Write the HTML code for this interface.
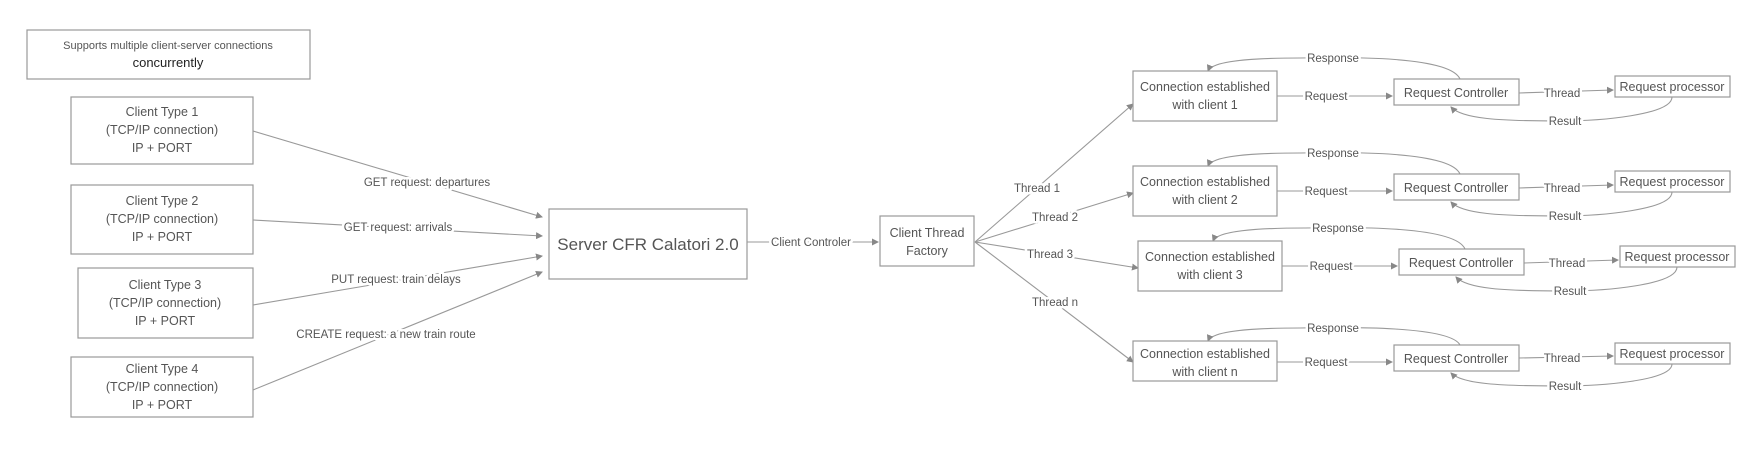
<!DOCTYPE html>
<html><head><meta charset="utf-8"><style>
html,body{margin:0;padding:0;background:#fff;}
svg{display:block;}
text{font-family:"Liberation Sans",sans-serif;fill:#555;}
.l{font-size:11.5px;text-anchor:middle;paint-order:stroke;stroke:#fff;stroke-width:5px;stroke-linejoin:round;}
.b{font-size:12.5px;text-anchor:middle;}
rect{fill:#fff;stroke:#999;stroke-width:1.2;}
.ln{fill:none;stroke:#999;stroke-width:1.1;}
</style></head><body>
<svg width="1748" height="455" viewBox="0 0 1748 455" xmlns="http://www.w3.org/2000/svg">
<defs><marker id="a" markerWidth="7" markerHeight="7" refX="6" refY="3.5" orient="auto" markerUnits="userSpaceOnUse"><path d="M0,0 L7,3.5 L0,7 z" fill="#888"/></marker></defs>

<rect x="27" y="30" width="283" height="49"/>
<text x="168" y="49" font-size="11" text-anchor="middle">Supports multiple client-server connections</text>
<text x="168" y="67" font-size="13" text-anchor="middle" style="fill:#222">concurrently</text>

<g>
<rect x="71" y="97" width="182" height="67"/>
<text class="b" x="162" y="116">Client Type 1</text><text class="b" x="162" y="134">(TCP/IP connection)</text><text class="b" x="162" y="152">IP + PORT</text>
<rect x="71" y="185" width="182" height="69"/>
<text class="b" x="162" y="205">Client Type 2</text><text class="b" x="162" y="223">(TCP/IP connection)</text><text class="b" x="162" y="241">IP + PORT</text>
<rect x="78" y="268" width="175" height="70"/>
<text class="b" x="165" y="289">Client Type 3</text><text class="b" x="165" y="307">(TCP/IP connection)</text><text class="b" x="165" y="325">IP + PORT</text>
<rect x="71" y="357" width="182" height="60"/>
<text class="b" x="162" y="373">Client Type 4</text><text class="b" x="162" y="391">(TCP/IP connection)</text><text class="b" x="162" y="409">IP + PORT</text>
</g>

<line class="ln" x1="253" y1="131" x2="542" y2="217" marker-end="url(#a)"/>
<line class="ln" x1="253" y1="220" x2="542" y2="236" marker-end="url(#a)"/>
<line class="ln" x1="253" y1="305" x2="542" y2="256" marker-end="url(#a)"/>
<line class="ln" x1="253" y1="390" x2="542" y2="272" marker-end="url(#a)"/>
<text class="l" x="427" y="186">GET request:  departures</text>
<text class="l" x="398" y="231">GET request:  arrivals</text>
<text class="l" x="396" y="283">PUT request: train delays</text>
<text class="l" x="386" y="338">CREATE request: a new train route</text>

<rect x="549" y="209" width="198" height="70"/>
<text x="648" y="250" font-size="17" text-anchor="middle">Server CFR Calatori 2.0</text>

<line class="ln" x1="747" y1="242" x2="878" y2="242" marker-end="url(#a)"/>
<text class="l" x="811" y="246">Client Controler</text>

<rect x="880" y="216" width="94" height="50"/>
<text class="b" x="927" y="237">Client Thread</text><text class="b" x="927" y="255">Factory</text>

<line class="ln" x1="975" y1="242" x2="1133" y2="104" marker-end="url(#a)"/>
<line class="ln" x1="975" y1="242" x2="1133" y2="193" marker-end="url(#a)"/>
<line class="ln" x1="975" y1="242" x2="1138" y2="268" marker-end="url(#a)"/>
<line class="ln" x1="975" y1="242" x2="1133" y2="362" marker-end="url(#a)"/>
<text class="l" x="1037" y="192">Thread 1</text>
<text class="l" x="1055" y="221">Thread 2</text>
<text class="l" x="1050" y="258">Thread 3</text>
<text class="l" x="1055" y="306">Thread n</text>

<g id="r1" transform="translate(0,71)">
<path class="ln" d="M1460,8 C1450,-15 1350,-14 1300,-13 C1250,-13 1212,-10 1208,0" marker-end="url(#a)"/>
<text class="l" x="1333" y="-9">Response</text>
<rect x="1133" y="0" width="144" height="50"/>
<text class="b" x="1205" y="20">Connection established</text>
<line class="ln" x1="1277" y1="25" x2="1392" y2="25" marker-end="url(#a)"/>
<text class="l" x="1326" y="29">Request</text>
<rect x="1394" y="8" width="125" height="26"/>
<text class="b" x="1456" y="26">Request Controller</text>
<line class="ln" x1="1519" y1="22" x2="1613" y2="19" marker-end="url(#a)"/>
<text class="l" x="1562" y="26">Thread</text>
<rect x="1615" y="5" width="115" height="21"/>
<text class="b" x="1672" y="20">Request processor</text>
<path class="ln" d="M1672,26 C1672,44 1600,50 1560,50 C1500,50 1462,48 1451,36" marker-end="url(#a)"/>
<text class="l" x="1565" y="54">Result</text>
</g>
<use href="#r1" transform="translate(0,95)"/>
<use href="#r1" transform="translate(5,170)"/>
<text class="b" x="1205" y="109">with client 1</text>
<text class="b" x="1205" y="204">with client 2</text>
<text class="b" x="1210" y="279">with client 3</text>
<g transform="translate(0,341)">
<path class="ln" d="M1460,4 C1450,-15 1350,-14 1300,-13 C1250,-13 1212,-10 1208,0" marker-end="url(#a)"/>
<text class="l" x="1333" y="-9">Response</text>
<rect x="1133" y="0" width="144" height="40"/>
<text class="b" x="1205" y="17">Connection established</text><text class="b" x="1205" y="35">with client n</text>
<line class="ln" x1="1277" y1="21" x2="1392" y2="21" marker-end="url(#a)"/>
<text class="l" x="1326" y="25">Request</text>
<rect x="1394" y="4" width="125" height="26"/>
<text class="b" x="1456" y="22">Request Controller</text>
<line class="ln" x1="1519" y1="17" x2="1613" y2="15" marker-end="url(#a)"/>
<text class="l" x="1562" y="21">Thread</text>
<rect x="1615" y="2" width="115" height="21"/>
<text class="b" x="1672" y="17">Request processor</text>
<path class="ln" d="M1672,23 C1672,40 1600,45 1560,45 C1500,45 1462,43 1451,32" marker-end="url(#a)"/>
<text class="l" x="1565" y="49">Result</text>
</g>
</svg>
</body></html>
